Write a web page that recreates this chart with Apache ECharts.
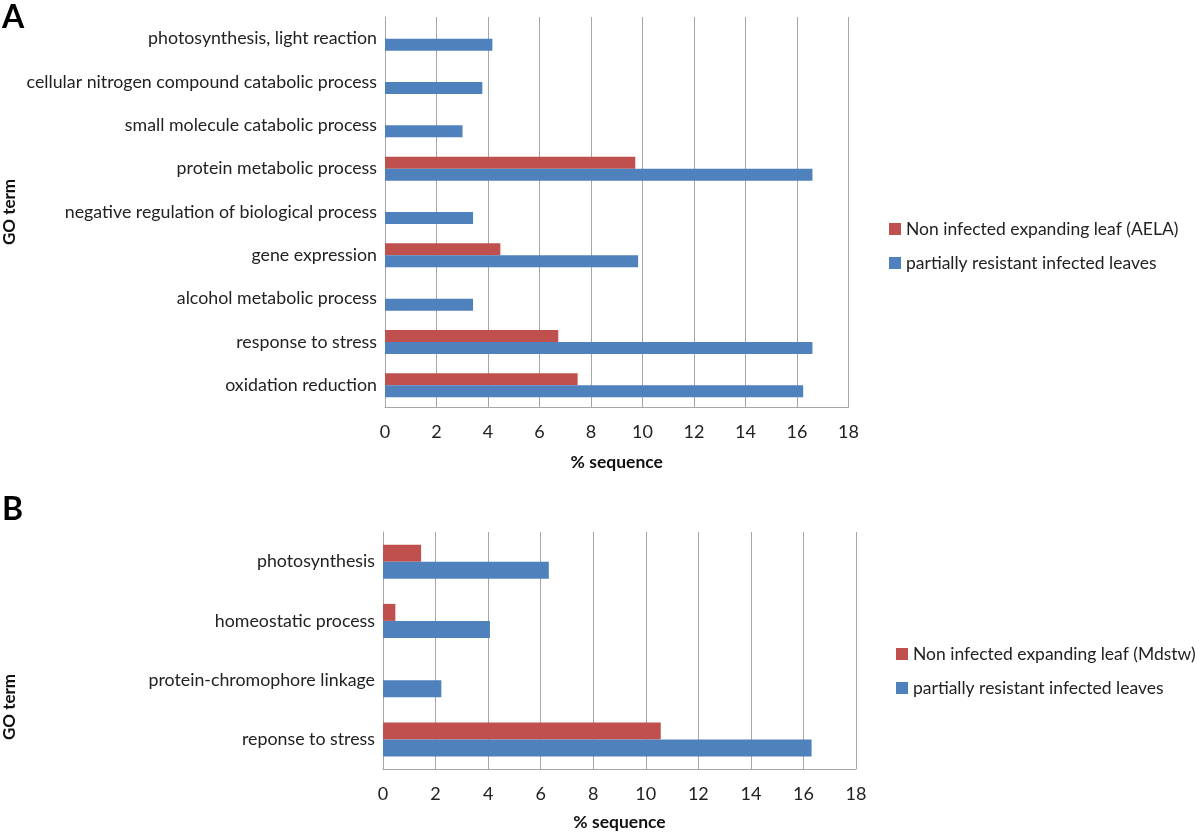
<!DOCTYPE html>
<html><head><meta charset="utf-8">
<script src="https://cdn.jsdelivr.net/npm/echarts@6/dist/echarts.min.js"></script>
<style>html,body{margin:0;padding:0;background:#fff}#c{width:1200px;height:834px}</style>
</head><body><div id="c"></div>
<script>
// Panel A (categories listed bottom to top)
const catsA = ['oxidation reduction','response to stress','alcohol metabolic process','gene expression','negative regulation of biological process','protein metabolic process','small molecule catabolic process','cellular nitrogen compound catabolic process','photosynthesis, light reaction'];
const redA = [7.48, 6.73, null, 4.48, null, 9.72, null, null, null];
const blueA = [16.24, 16.6, 3.42, 9.83, 3.42, 16.6, 3.01, 3.78, 4.17];
// Panel B (bottom to top)
const catsB = ['reponse to stress','protein-chromophore linkage','homeostatic process','photosynthesis'];
const redB = [10.57, null, 0.47, 1.45];
const blueB = [16.31, 2.22, 4.07, 6.31];
const xTicks = [0,2,4,6,8,10,12,14,16,18];
const nameRedA = 'Non infected expanding leaf (AELA)';
const nameRedB = 'Non infected expanding leaf (Mdstw)';
const nameBlue = 'partially resistant infected leaves';

const RED = '#C0504D', BLUE = '#4F81BD', GRID = '#A6A6A6';
const FONT = 'Lato';
const chart = echarts.init(document.getElementById('c'));
function xAxis(gi){
  return {type:'value', gridIndex:gi, min:xTicks[0], max:xTicks[xTicks.length-1], interval:2,
    axisLine:{show:true, lineStyle:{color:GRID}}, axisTick:{show:false},
    axisLabel:{color:'#222', fontSize:18, fontFamily:FONT, margin:16},
    splitLine:{show:true, lineStyle:{color:GRID, width:1}},
    name:'% sequence', nameLocation:'middle', nameGap:gi===0?46:44,
    nameTextStyle:{fontWeight:'bold', fontSize:17.5, color:'#111', fontFamily:FONT}};
}
function yAxis(gi, cats){
  return {type:'category', gridIndex:gi, data:cats,
    axisLine:{show:true, lineStyle:{color:GRID}}, axisTick:{show:false},
    axisLabel:{color:'#222', fontSize:17.8, fontFamily:FONT, margin:8}};
}
chart.setOption({
  animation:false,
  textStyle:{fontFamily:FONT},
  grid:[{left:385, top:17, width:463.5, height:390, containLabel:false},
        {left:383, top:532, width:473, height:237, containLabel:false}],
  xAxis:[xAxis(0), xAxis(1)],
  yAxis:[yAxis(0,catsA), yAxis(1,catsB)],
  legend:[
    {data:[nameRedA, nameBlue], orient:'vertical', left:884, top:215, itemWidth:12, itemHeight:12, itemGap:16,
      icon:'rect', textStyle:{fontSize:17.5, color:'#222', fontFamily:FONT}},
    {data:[nameRedB, nameBlue], orient:'vertical', left:891, top:640, itemWidth:12, itemHeight:12, itemGap:16,
      icon:'rect', textStyle:{fontSize:17.5, color:'#222', fontFamily:FONT}}
  ],
  series:[
    {type:'bar', name:nameRedA, xAxisIndex:0, yAxisIndex:0, data:redA, barWidth:12, barGap:'0%', itemStyle:{color:RED}},
    {type:'bar', name:nameBlue, xAxisIndex:0, yAxisIndex:0, data:blueA, barWidth:12, barGap:'0%', itemStyle:{color:BLUE}},
    {type:'bar', name:nameRedB, xAxisIndex:1, yAxisIndex:1, data:redB, barWidth:17, barGap:'0%', itemStyle:{color:RED}},
    {type:'bar', name:nameBlue, xAxisIndex:1, yAxisIndex:1, data:blueB, barWidth:17, barGap:'0%', itemStyle:{color:BLUE}}
  ],
  graphic:[
    {type:'text', left:2, top:2, style:{text:'A', font:'bold 32px '+FONT, fill:'#000'}},
    {type:'text', left:2, top:494, style:{text:'B', font:'bold 32px '+FONT, fill:'#000'}},
    {type:'text', x:10, y:212, rotation:Math.PI/2, style:{text:'GO term', font:'bold 17px '+FONT, fill:'#111', align:'center', verticalAlign:'middle'}},
    {type:'text', x:10, y:707, rotation:Math.PI/2, style:{text:'GO term', font:'bold 17px '+FONT, fill:'#111', align:'center', verticalAlign:'middle'}}
  ]
});
</script></body></html>
